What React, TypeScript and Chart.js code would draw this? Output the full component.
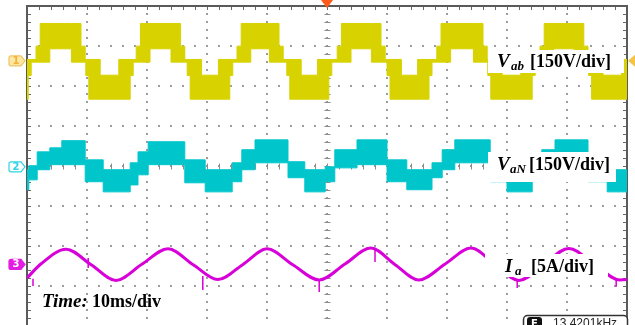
import React, { useEffect, useRef } from "react";
import { Chart, registerables } from "chart.js";

Chart.register(...registerables);

// ---------- axes (10 ms/div x 10 div, 8 vertical div) ----------
const timeMin = 0;
const timeMax = 100;
const divMin = -4;
const divMax = 4;

// ---------- channel settings ----------
const vabVoltsPerDiv = 150;
const vanVoltsPerDiv = 150;
const iaAmpsPerDiv = 5;
const vabOffsetDiv = 2.63;
const vanOffsetDiv = -0.02;
const iaOffsetDiv = -2.46;

// ---------- CH1: Vab (5-level line voltage), half cycles in ms ----------
const vabPosStart = [1.5, 18.2, 35.0, 51.7, 68.3, 85.5];
const vabPosEnd = [9.7, 26.3, 42.7, 59.7, 76.7, 93.5];
const vabNegStart = [-7.0, 9.8, 26.7, 43.3, 60.0, 76.8, 93.6];
const vabNegEnd = [0.7, 17.7, 34.3, 50.8, 67.5, 84.7, 101.5];
// envelope levels (V): [step, outer, inner]
const vabPosLevels = [55, 140, 45];
const vabNegLevels = [-55, -144, -54];
const vabZeroBand = 5;
// shoulder width / inner-edge inset (ms): [positive, negative]
const vabShoulderMs = [0.7, 0.5];
const vabInnerMs = [2.3, 2.4];

// ---------- CH2: VaN (phase voltage) envelope; level starts at each time ----------
const vanT = [0, 0.3, 1.7, 3.8, 5.8, 9.7, 12.7, 17.2, 18.5, 20.2, 26.3, 29.7, 34.2, 35.8, 38.0, 43.5, 46.3, 49.7, 51.3, 55.0, 60.0, 63.3, 67.5, 69.2, 71.3, 77.2, 80.0, 84.2, 85.8, 88.0, 93.5, 96.7, 100.5];
const vanHi = [-11, 4, 56, 71, 98, 26, -11, 15, 56, 94, 26, -11, 15, 64, 101, 19, -11, 0, 64, 101, 26, -11, 15, 64, 101, 26, -11, 15, 64, 101, 26, -11, -11];
const vanLo = [-86, -49, -11, 8, 8, -56, -94, -68, -30, 8, -60, -94, -56, -11, 15, -41, -94, -56, -4, 8, -56, -86, -41, -11, 15, -56, -94, -49, -11, 15, -56, -94, -94];

// ---------- CH3: Ia (A) ----------
const iaT = [0, 2.3, 6.5, 10.7, 14.8, 19.2, 23.5, 27.7, 31.8, 36.0, 40.0, 44.3, 48.7, 53.0, 57.3, 61.3, 65.3, 69.7, 74.0, 78.0, 82.0, 86.2, 90.3, 94.7, 98.8, 100.5];
const iaA = [-1.7, 0.05, 1.9, -0.05, -2.0, 0.05, 1.95, -0.05, -1.9, 0.0, 1.95, -0.05, -1.95, 0.05, 2.05, 0.0, -1.95, 0.05, 2.05, 0.0, -2.0, 0.05, 2.0, -0.05, -1.95, -1.85];
// noise spikes on Ia: time (ms), from (A), to (A)
const iaSpikeT = [1.0, 10.2, 29.3, 48.7, 58.0, 81.7, 98.2];
const iaSpikeFrom = [-1.8, 0.8, -1.45, -2.05, 1.95, -2.05, -1.8];
const iaSpikeTo = [-2.7, -0.45, -3.2, -3.45, 0.3, -2.95, -2.8];

const COL_VAB = "#d8d200";
const COL_VAN = "#00c6cc";
const COL_IA = "#d800d8";
const SERIF = '"Liberation Serif", "Times New Roman", serif';

function buildVab() {
  const segs: { s: number; e: number; pos: boolean }[] = [];
  vabPosStart.forEach((s, i) => segs.push({ s, e: vabPosEnd[i], pos: true }));
  vabNegStart.forEach((s, i) => segs.push({ s, e: vabNegEnd[i], pos: false }));
  segs.sort((a, b) => a.s - b.s);
  const hi: { x: number; y: number }[] = [];
  const lo: { x: number; y: number }[] = [];
  // each point gives the level that starts at that time (held until the next point)
  const add = (t: number, h: number, l: number) => {
    hi.push({ x: t, y: h / vabVoltsPerDiv + vabOffsetDiv });
    lo.push({ x: t, y: l / vabVoltsPerDiv + vabOffsetDiv });
  };
  for (const g of segs) {
    if (g.pos) {
      const [step, top, inner] = vabPosLevels;
      add(g.s, step, -vabZeroBand);
      add(g.s + vabShoulderMs[0], top, -vabZeroBand);
      add(g.s + vabInnerMs[0], top, inner);
      add(g.e - vabInnerMs[0], top, -vabZeroBand);
      add(g.e - vabShoulderMs[0], step, -vabZeroBand);
      add(g.e, vabZeroBand, -vabZeroBand);
    } else {
      const [step, bottom, inner] = vabNegLevels;
      add(g.s, vabZeroBand, step);
      add(g.s + vabShoulderMs[1], vabZeroBand, bottom);
      add(g.s + vabInnerMs[1], inner, bottom);
      add(g.e - vabInnerMs[1], vabZeroBand, bottom);
      add(g.e - vabShoulderMs[1], vabZeroBand, step);
      add(g.e, vabZeroBand, -vabZeroBand);
    }
  }
  return { hi, lo };
}

function marker(ctx: CanvasRenderingContext2D, y: number, label: string, fill: string, stroke: string, text: string) {
  const x0 = 9, x1 = 21, tip = 25, h = 5;
  ctx.beginPath();
  ctx.moveTo(x0 + 2, y - h);
  ctx.lineTo(x1, y - h);
  ctx.lineTo(tip, y);
  ctx.lineTo(x1, y + h);
  ctx.lineTo(x0 + 2, y + h);
  ctx.quadraticCurveTo(x0, y + h, x0, y + h - 2);
  ctx.lineTo(x0, y - h + 2);
  ctx.quadraticCurveTo(x0, y - h, x0 + 2, y - h);
  ctx.closePath();
  ctx.fillStyle = fill;
  ctx.fill();
  ctx.strokeStyle = stroke;
  ctx.lineWidth = 1.2;
  ctx.stroke();
  ctx.fillStyle = text;
  ctx.font = 'bold 10px "DejaVu Sans", sans-serif';
  ctx.textAlign = "center";
  ctx.textBaseline = "middle";
  ctx.fillText(label, (x0 + x1) / 2 + 1, y + 0.5);
  ctx.textAlign = "left";
  ctx.textBaseline = "alphabetic";
}

const scopePlugin = {
  id: "scope",
  beforeDraw(chart: any) {
    const { ctx } = chart;
    ctx.save();
    ctx.fillStyle = "#ffffff";
    ctx.fillRect(0, 0, chart.width, chart.height);
    ctx.restore();
  },
  beforeDatasetsDraw(chart: any) {
    const { ctx, chartArea: a, scales } = chart;
    const xs = scales.x, ys = scales.y;
    ctx.save();
    ctx.fillStyle = "#9c9c9c";
    for (let i = 1; i < 10; i++) {
      const px = Math.round(xs.getPixelForValue(timeMin + i * 10));
      for (let k = 0; k <= 40; k++) {
        const py = Math.round(ys.getPixelForValue(divMin + k * 0.2));
        ctx.fillRect(px - 1, py - 1, 2, 2);
      }
    }
    for (let j = 1; j < 8; j++) {
      const py = Math.round(ys.getPixelForValue(divMin + j));
      for (let k = 0; k <= 50; k++) {
        const px = Math.round(xs.getPixelForValue(timeMin + k * 2));
        ctx.fillRect(px - 1, py - 1, 2, 2);
      }
    }
    ctx.strokeStyle = "#8c8c8c";
    ctx.lineWidth = 1;
    const cx = Math.round(xs.getPixelForValue(50)) + 0.5;
    const cy = Math.round(ys.getPixelForValue(0)) + 0.5;
    ctx.beginPath();
    for (let k = 0; k <= 40; k++) {
      const py = Math.round(ys.getPixelForValue(divMin + k * 0.2)) + 0.5;
      ctx.moveTo(cx - 3, py);
      ctx.lineTo(cx + 3, py);
    }
    for (let k = 0; k <= 50; k++) {
      const px = Math.round(xs.getPixelForValue(timeMin + k * 2)) + 0.5;
      ctx.moveTo(px, cy - 3);
      ctx.lineTo(px, cy + 3);
    }
    ctx.stroke();
    ctx.strokeStyle = "#666";
    ctx.beginPath();
    for (let k = 0; k <= 40; k++) {
      const py = Math.round(ys.getPixelForValue(divMin + k * 0.2)) + 0.5;
      ctx.moveTo(a.left, py);
      ctx.lineTo(a.left + 4, py);
      ctx.moveTo(a.right, py);
      ctx.lineTo(a.right - 4, py);
    }
    for (let k = 0; k <= 50; k++) {
      const px = Math.round(xs.getPixelForValue(timeMin + k * 2)) + 0.5;
      ctx.moveTo(px, a.top);
      ctx.lineTo(px, a.top + 4);
    }
    ctx.stroke();
    ctx.strokeStyle = "#5a5a5a";
    ctx.lineWidth = 2;
    ctx.strokeRect(a.left, a.top, a.right - a.left, a.bottom - a.top);
    ctx.restore();
  },
  afterDatasetsDraw(chart: any) {
    const { ctx, scales } = chart;
    const xs = scales.x, ys = scales.y;
    ctx.save();
    ctx.fillStyle = "#ffffff";
    ctx.fillRect(488, 50, 136, 23);
    ctx.fillRect(488, 152, 128, 30);
    ctx.fillRect(485, 254, 123, 23);
    ctx.fillStyle = "#000000";
    const t = (s: string, x: number, y: number, size: number, italic: boolean) => {
      ctx.font = `${italic ? "italic " : ""}bold ${size}px ${SERIF}`;
      ctx.fillText(s, x, y);
    };
    t("V", 497, 67, 19, true);
    t("ab", 511, 70, 13, true);
    t("[150V/div]", 530, 67, 18, false);
    t("V", 497, 170, 19, true);
    t("aN", 510, 173, 13, true);
    t("[150V/div]", 529, 170, 18, false);
    t("I", 505, 272, 19, true);
    t("a", 515, 275, 13, true);
    t("[5A/div]", 531, 272, 18, false);
    t("Time:", 42, 307, 19, true);
    t("10ms/div", 92, 307, 18, false);

    marker(ctx, ys.getPixelForValue(vabOffsetDiv), "1", "#fce8a4", "#f0c466", "#f3b23a");
    marker(ctx, ys.getPixelForValue(vanOffsetDiv), "2", "#ffffff", "#2cd4e4", "#2cd4e4");
    marker(ctx, ys.getPixelForValue(iaOffsetDiv), "3", "#e21ee2", "#e21ee2", "#ffffff");

    const tx = xs.getPixelForValue(50);
    ctx.fillStyle = "#ff5a1a";
    ctx.beginPath();
    ctx.moveTo(tx - 6, 0);
    ctx.lineTo(tx + 6, 0);
    ctx.lineTo(tx, 8);
    ctx.closePath();
    ctx.fill();
    const ty = ys.getPixelForValue(vabOffsetDiv);
    ctx.fillStyle = "#f2c44a";
    ctx.beginPath();
    ctx.moveTo(628, ty);
    ctx.lineTo(635, ty - 6);
    ctx.lineTo(635, ty + 6);
    ctx.closePath();
    ctx.fill();

    ctx.fillStyle = "#ffffff";
    ctx.strokeStyle = "#333";
    ctx.lineWidth = 1.5;
    ctx.beginPath();
    ctx.roundRect(523.5, 315.5, 104, 22, 4);
    ctx.fill();
    ctx.stroke();
    ctx.fillStyle = "#111";
    ctx.beginPath();
    ctx.roundRect(527, 317, 15, 12, 3);
    ctx.fill();
    ctx.fillStyle = "#fff";
    ctx.font = 'bold 10px "DejaVu Sans", sans-serif';
    ctx.fillText("F", 531, 327);
    ctx.fillStyle = "#222";
    ctx.font = '12px "Liberation Sans", Arial, sans-serif';
    ctx.fillText("13.4201kHz", 553, 327);
    ctx.restore();
  },
};

export default function App() {
  const ref = useRef<HTMLCanvasElement | null>(null);
  useEffect(() => {
    if (!ref.current) return;
    const vab = buildVab();
    const vanHiPts = vanT.map((x, i) => ({ x, y: vanHi[i] / vanVoltsPerDiv + vanOffsetDiv }));
    const vanLoPts = vanT.map((x, i) => ({ x, y: vanLo[i] / vanVoltsPerDiv + vanOffsetDiv }));
    const iaPts = iaT.map((x, i) => ({ x, y: iaA[i] / iaAmpsPerDiv + iaOffsetDiv }));
    const spikePts: { x: number; y: number | null }[] = [];
    iaSpikeT.forEach((x, i) => {
      spikePts.push({ x, y: iaSpikeFrom[i] / iaAmpsPerDiv + iaOffsetDiv });
      spikePts.push({ x, y: iaSpikeTo[i] / iaAmpsPerDiv + iaOffsetDiv });
      spikePts.push({ x, y: null });
    });
    const chart = new Chart(ref.current, {
      type: "line",
      data: {
        datasets: [
          { label: "Vab hi", data: vab.hi, stepped: "before", borderColor: COL_VAB, borderWidth: 1, backgroundColor: COL_VAB, fill: "+1", pointRadius: 0 },
          { label: "Vab lo", data: vab.lo, stepped: "before", borderColor: COL_VAB, borderWidth: 1, fill: false, pointRadius: 0 },
          { label: "VaN hi", data: vanHiPts, stepped: "before", borderColor: COL_VAN, borderWidth: 1, backgroundColor: COL_VAN, fill: "+1", pointRadius: 0 },
          { label: "VaN lo", data: vanLoPts, stepped: "before", borderColor: COL_VAN, borderWidth: 1, fill: false, pointRadius: 0 },
          { label: "Ia", data: iaPts, borderColor: COL_IA, borderWidth: 3, cubicInterpolationMode: "monotone", fill: false, pointRadius: 0 },
          { label: "Ia spikes", data: spikePts as any, borderColor: COL_IA, borderWidth: 1.5, spanGaps: false, fill: false, pointRadius: 0 },
        ] as any,
      },
      options: {
        responsive: false,
        animation: false,
        devicePixelRatio: 1,
        layout: { padding: { left: 27, top: 6, right: 8, bottom: 14 } },
        plugins: { legend: { display: false }, tooltip: { enabled: false } },
        scales: {
          x: { type: "linear", min: timeMin, max: timeMax, display: false },
          y: { type: "linear", min: divMin, max: divMax, display: false },
        },
      } as any,
      plugins: [scopePlugin],
    });
    return () => chart.destroy();
  }, []);
  return (
    <div style={{ position: "fixed", left: 0, top: 0, width: 635, height: 325, overflow: "hidden", background: "#fff" }}>
      <canvas ref={ref} width={635} height={340} style={{ display: "block", width: 635, height: 340 }} />
    </div>
  );
}
